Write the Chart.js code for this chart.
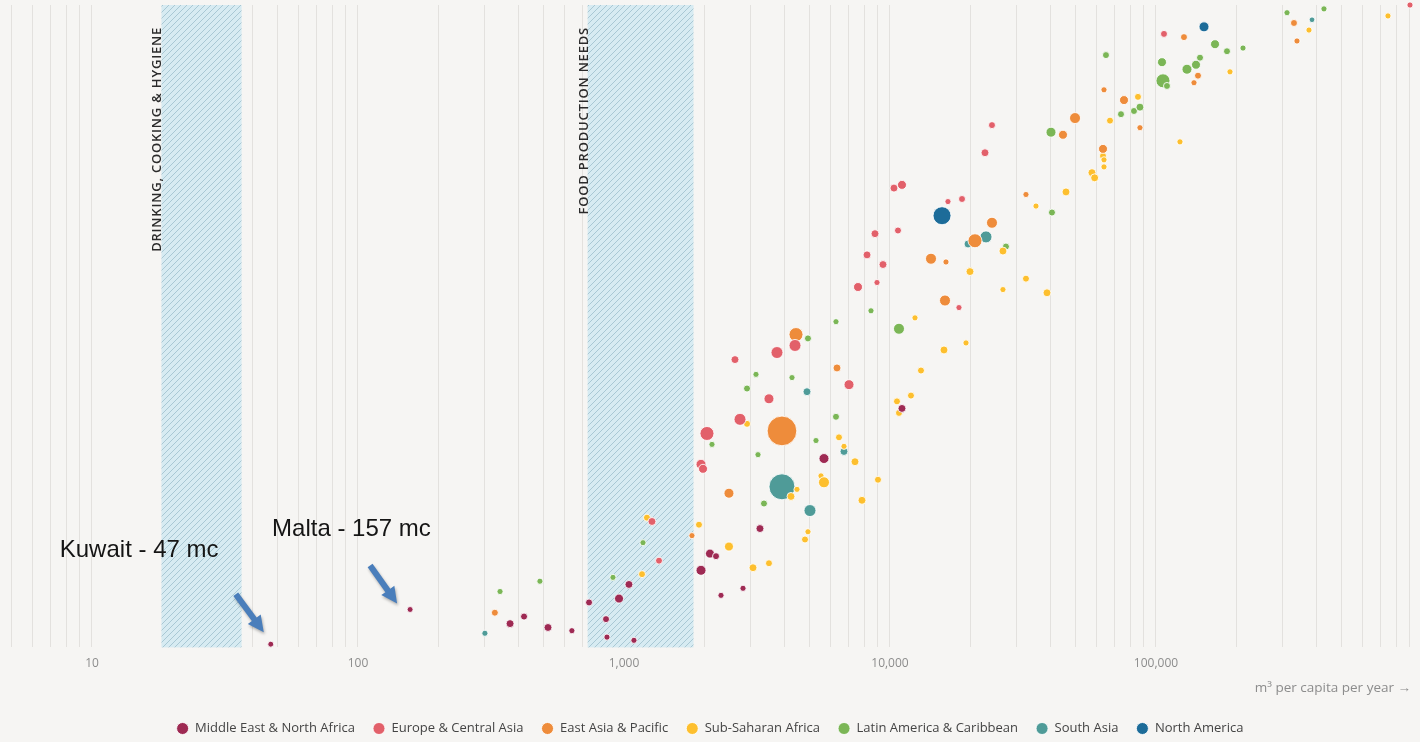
<!DOCTYPE html>
<html>
<head>
<meta charset="utf-8">
<script src="https://cdn.jsdelivr.net/npm/chart.js@4.4.1/dist/chart.umd.min.js"></script>
<style>
  html, body { margin: 0; padding: 0; background: #f6f5f3; }
  #wrap { width: 1420px; height: 742px; }
</style>
</head>
<body>
<div id="wrap"><canvas id="chart" width="1420" height="742"></canvas></div>
<script>
// Renewable freshwater per person (m³ per capita per year), ordering index, population (millions)
const middleEastNorthAfrica = [
  [47, 0.5, 2], [157, 5.9, 2], [373, 3.7, 20], [421, 4.8, 9], [518, 3.1, 20],
  [637, 2.6, 3], [739, 7.0, 9], [856, 4.4, 9], [863, 1.6, 3], [958, 7.6, 37],
  [1044, 9.8, 20], [1090, 1.1, 3], [1948, 12.0, 57], [2105, 14.6, 37], [2218, 14.2, 9],
  [2316, 8.1, 3], [2802, 9.2, 3], [3245, 18.5, 20], [5648, 29.4, 57], [11094, 37.2, 20]
];
const europeCentralAsia = [
  [1274, 19.6, 20], [1354, 13.5, 9], [2051, 33.3, 186], [1948, 28.5, 57], [1982, 27.8, 37],
  [2730, 35.5, 112], [3508, 38.7, 57], [2614, 44.8, 20], [3760, 45.9, 112], [4395, 47.0, 112],
  [7014, 40.9, 57], [7582, 56.1, 37], [8937, 56.8, 3], [8197, 61.1, 20], [9413, 59.6, 20],
  [8783, 64.4, 20], [10717, 64.9, 9], [10352, 71.5, 20], [11094, 72.0, 37], [16520, 69.4, 3],
  [18656, 69.8, 9], [18170, 52.9, 3], [24180, 81.3, 9], [22760, 77.0, 20], [107180, 95.5, 9],
  [901400, 100, 3]
];
const eastAsiaPacific = [
  [327, 5.4, 9], [1801, 17.4, 3], [2481, 24.0, 57], [3926, 33.7, 1400], [4433, 48.7, 186],
  [6321, 43.5, 20], [14262, 60.5, 83], [16237, 60.0, 3], [16100, 54.0, 83], [20870, 63.3, 186],
  [24180, 66.1, 83], [32450, 70.5, 3], [44710, 79.8, 37], [49620, 82.4, 83], [63220, 77.6, 37],
  [63760, 86.8, 3], [75820, 85.2, 37], [87050, 80.9, 3], [127420, 95.0, 9], [143860, 89.0, 9],
  [138960, 87.9, 3], [330200, 97.2, 9], [338900, 94.4, 3]
];
const subSaharanAfrica = [
  [1169, 11.4, 9], [1220, 20.2, 9], [1914, 19.1, 9], [2481, 15.7, 37], [2901, 34.8, 9],
  [3055, 12.4, 20], [3508, 13.1, 9], [4245, 23.5, 20], [4471, 24.6, 3], [4792, 16.8, 9],
  [4917, 18.0, 3], [5503, 26.7, 3], [5648, 25.7, 83], [6431, 32.7, 9], [6716, 31.3, 3],
  [7386, 28.9, 20], [7848, 22.9, 20], [9013, 26.1, 9], [10624, 38.3, 9], [10810, 36.5, 9],
  [11993, 39.2, 9], [12417, 51.3, 3], [13078, 43.1, 9], [15960, 46.3, 20], [19310, 47.4, 3],
  [19990, 58.5, 20], [26590, 61.7, 20], [26590, 55.7, 3], [32450, 57.4, 9], [38930, 55.2, 20],
  [35390, 68.7, 3], [45890, 70.9, 20], [57450, 73.9, 20], [58800, 73.1, 20], [63220, 76.5, 9],
  [63760, 75.9, 3], [63760, 74.8, 3], [67160, 82.0, 9], [85560, 85.7, 9], [123070, 78.7, 3],
  [189760, 89.6, 3], [376000, 96.1, 3], [745000, 98.3, 3]
];
const latinAmericaCaribbean = [
  [342, 8.7, 3], [483, 10.3, 3], [909, 10.9, 3], [1179, 16.3, 3], [2142, 31.6, 3],
  [3190, 30.0, 3], [3360, 22.4, 9], [5270, 32.2, 3], [6266, 35.9, 9], [2901, 40.3, 9],
  [3135, 42.5, 3], [4282, 42.0, 3], [4917, 48.1, 9], [6266, 50.7, 3], [8484, 52.4, 3],
  [10810, 49.6, 83], [27290, 62.4, 9], [40640, 67.7, 9], [40300, 80.2, 57], [64860, 92.2, 9],
  [73870, 83.0, 9], [82660, 83.5, 9], [87050, 84.1, 20], [106250, 88.2, 186], [109990, 87.4, 9],
  [105350, 91.1, 37], [130780, 90.0, 57], [141400, 90.7, 37], [146400, 91.8, 9], [166700, 93.9, 37],
  [184900, 92.8, 9], [212400, 93.3, 3], [310900, 98.8, 3], [428100, 99.4, 3]
];
const southAsia = [
  [300, 2.2, 3], [3926, 25.0, 1010], [5003, 21.3, 112], [4875, 39.8, 20], [6716, 30.5, 20],
  [19650, 62.8, 20], [22960, 63.9, 112], [386000, 97.7, 1]
];
const northAmerica = [
  [15690, 67.2, 388], [151540, 96.6, 57]
];

const regionNames = [
  'Middle East & North Africa', 'Europe & Central Asia', 'East Asia & Pacific',
  'Sub-Saharan Africa', 'Latin America & Caribbean', 'South Asia', 'North America'
];
const regionData = [
  middleEastNorthAfrica, europeCentralAsia, eastAsiaPacific, subSaharanAfrica,
  latinAmericaCaribbean, southAsia, northAmerica
];
const regionColors = ['#9e2a53', '#e2606a', '#ee8c3b', '#fdbf2e', '#7bb656', '#4f9b98', '#1d6c99'];

// Shaded requirement bands (m³ per capita per year) and their captions
const bandRanges = [[18.25, 36.5], [730, 1825]];
const bandLabels = ['DRINKING, COOKING & HYGIENE', 'FOOD PRODUCTION NEEDS'];

// Labelled x ticks
const labelledTicks = [10, 100, 1000, 10000, 100000];

// Called-out countries
const callouts = [
  { name: 'Kuwait', value: 47, rank: 0.5 },
  { name: 'Malta', value: 157, rank: 5.9 }
];

const X_MIN = 4.51, X_MAX = 983000;

const bubbleRadius = pop => 2.5 + 0.33 * Math.sqrt(pop);

const datasets = regionNames.map((name, i) => ({
  label: name,
  data: regionData[i].map(([x, y, pop]) => ({ x, y, r: bubbleRadius(pop) })),
  backgroundColor: regionColors[i],
  borderColor: 'rgba(255,255,255,0.85)',
  borderWidth: 1,
  hoverBorderWidth: 1,
  clip: false
}));

function hatchPattern(ctx) {
  const c = document.createElement('canvas');
  c.width = 6; c.height = 6;
  const p = c.getContext('2d');
  p.fillStyle = '#d7ebf2';
  p.fillRect(0, 0, 6, 6);
  p.strokeStyle = '#a9c8d4';
  p.lineWidth = 1;
  p.beginPath();
  p.moveTo(-1, 7); p.lineTo(7, -1);
  p.moveTo(-1, 1); p.lineTo(1, -1);
  p.moveTo(5, 7); p.lineTo(7, 5);
  p.stroke();
  return ctx.createPattern(c, 'repeat');
}

const backgroundPlugin = {
  id: 'pageBackground',
  beforeDraw(chart) {
    const { ctx, width, height } = chart;
    ctx.save();
    ctx.fillStyle = '#f6f5f3';
    ctx.fillRect(0, 0, width, height);
    ctx.restore();
  }
};

const bandsPlugin = {
  id: 'requirementBands',
  beforeDatasetsDraw(chart) {
    const { ctx, chartArea, scales: { x } } = chart;
    ctx.save();
    const pat = hatchPattern(ctx);
    bandRanges.forEach(([lo, hi], i) => {
      const x0 = x.getPixelForValue(lo);
      const x1 = x.getPixelForValue(hi);
      ctx.fillStyle = pat;
      ctx.fillRect(x0, chartArea.top, x1 - x0, chartArea.bottom - chartArea.top);
      ctx.save();
      ctx.translate(x0, chartArea.top + 22);
      ctx.rotate(-Math.PI / 2);
      ctx.font = '600 13px "Open Sans"';
      ctx.letterSpacing = '0.8px';
      ctx.fillStyle = '#2b2b2b';
      ctx.textAlign = 'right';
      ctx.textBaseline = 'alphabetic';
      ctx.fillText(bandLabels[i], 0, 0);
      ctx.restore();
    });
    ctx.restore();
  }
};

function drawArrow(ctx, x1, y1, x2, y2) {
  const dx = x2 - x1, dy = y2 - y1;
  const len = Math.hypot(dx, dy);
  const ux = dx / len, uy = dy / len;
  const nx = -uy, ny = ux;
  const shaft = 3, head = 8, headLen = 16;
  const bx = x2 - ux * headLen, by = y2 - uy * headLen;
  ctx.beginPath();
  ctx.moveTo(x1 + nx * shaft, y1 + ny * shaft);
  ctx.lineTo(bx + nx * shaft, by + ny * shaft);
  ctx.lineTo(bx + nx * head, by + ny * head);
  ctx.lineTo(x2, y2);
  ctx.lineTo(bx - nx * head, by - ny * head);
  ctx.lineTo(bx - nx * shaft, by - ny * shaft);
  ctx.lineTo(x1 - nx * shaft, y1 - ny * shaft);
  ctx.closePath();
  ctx.fill();
}

const calloutPlugin = {
  id: 'callouts',
  afterDatasetsDraw(chart) {
    const { ctx, scales: { x, y } } = chart;
    const layout = [
      { text: [-211, -87], tail: [-35, -50], tip: [-7, -12] },
      { text: [-138, -73], tail: [-40, -44], tip: [-13, -6] }
    ];
    ctx.save();
    callouts.forEach((c, i) => {
      const px = x.getPixelForValue(c.value);
      const py = y.getPixelForValue(c.rank);
      const l = layout[i];
      ctx.font = '24px "Liberation Sans"';
      ctx.fillStyle = '#151515';
      ctx.textAlign = 'left';
      ctx.textBaseline = 'alphabetic';
      ctx.fillText(`${c.name} - ${c.value} mc`, px + l.text[0], py + l.text[1]);
      ctx.save();
      ctx.shadowColor = 'rgba(0,0,0,0.3)';
      ctx.shadowBlur = 3;
      ctx.shadowOffsetX = 1;
      ctx.shadowOffsetY = 2;
      ctx.fillStyle = '#4a7ebb';
      drawArrow(ctx, px + l.tail[0], py + l.tail[1], px + l.tip[0], py + l.tip[1]);
      ctx.restore();
    });
    ctx.restore();
  }
};

const gridValues = [];
for (let e = 0; e <= 6; e++) {
  for (let m = 1; m <= 9; m++) {
    const v = m * Math.pow(10, e);
    if (v >= X_MIN && v <= X_MAX) gridValues.push(v);
  }
}

new Chart(document.getElementById('chart'), {
  type: 'bubble',
  data: { datasets },
  options: {
    responsive: false,
    animation: false,
    layout: { autoPadding: false, padding: { left: 0, right: 0, top: 5, bottom: -3 } },
    scales: {
      x: {
        type: 'logarithmic',
        min: X_MIN,
        max: X_MAX,
        afterBuildTicks(scale) {
          scale.ticks = gridValues.map(v => ({ value: v }));
        },
        grid: { color: '#e3e1de', lineWidth: 1, drawTicks: false },
        border: { display: false },
        ticks: {
          autoSkip: false,
          maxRotation: 0,
          minRotation: 0,
          padding: 9,
          color: '#8c8c8c',
          font: { family: '"Open Sans"', size: 12 },
          callback: v => labelledTicks.includes(v) ? v.toLocaleString('en-US') : ''
        },
        title: {
          display: true,
          text: 'm³ per capita per year →\u2002\u2009',
          align: 'end',
          color: '#8c8c8c',
          font: { family: '"Open Sans"', size: 13.5 },
          padding: { top: 0, bottom: 8 }
        }
      },
      y: { display: false, min: 0, max: 100 }
    },
    plugins: {
      legend: {
        position: 'bottom',
        labels: {
          usePointStyle: true,
          pointStyle: 'circle',
          boxWidth: 12,
          boxHeight: 8.5,
          padding: 18,
          color: '#444',
          font: { family: '"Open Sans"', size: 13 }
        }
      },
      tooltip: { enabled: false }
    }
  },
  plugins: [backgroundPlugin, bandsPlugin, calloutPlugin]
});
</script>
</body>
</html>
